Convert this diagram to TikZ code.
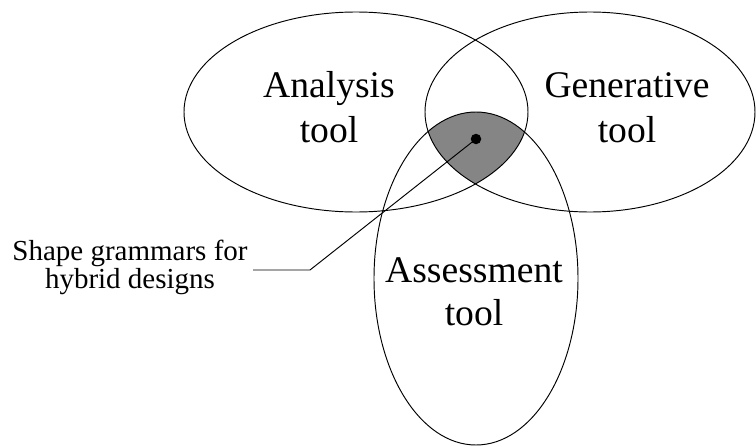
\documentclass[tikz,border=0pt]{standalone}
\usepackage{fontspec}
\setmainfont{Liberation Serif}
\usetikzlibrary{shapes.geometric}
\begin{document}
\begin{tikzpicture}[x=1pt,y=-1pt,
  set/.style={draw, ellipse, line width=0.95pt, inner sep=0pt, outer sep=0pt},
  big/.style={font=\fontsize{37.6}{45}\selectfont, align=center, inner sep=0pt, anchor=base},
  small/.style={font=\fontsize{29}{28}\selectfont, align=center, inner sep=0pt, anchor=base},
  lead/.style={line width=0.95pt},
  dotmark/.style={circle, fill=black, minimum size=10.5pt, inner sep=0pt}]
\useasboundingbox (0,0) rectangle (756,447);
\begin{scope}
\clip (356,112) ellipse [x radius=172pt, y radius=100pt];
\clip (590,112) ellipse [x radius=165pt, y radius=100pt];
\fill[black!48] (476,278.5) ellipse [x radius=102pt, y radius=166.5pt];
\end{scope}
\node[set, minimum width=344pt, minimum height=200pt] (analysis) at (356,112) {};
\node[set, minimum width=330pt, minimum height=200pt] (generative) at (590,112) {};
\node[set, minimum width=204pt, minimum height=333pt] (assessment) at (476,278.5) {};
\node[big] (analysistext) at (329,142) {Analysis\\tool};
\node[big] (generativetext) at (627,142) {Generative\\tool};
\node[big, font=\fontsize{37.6}{43}\selectfont] (assessmenttext) at (474,325) {Assessment\\tool};
\node[small] (label) at (130,288) {Shape grammars for\\hybrid designs};
\node[dotmark] (dot) at (476,139) {};
\coordinate (bend) at (310,270);
\coordinate (lend) at (253,270);
\draw[lead] (dot.center) -- (bend) -- (lend);
\end{tikzpicture}
\end{document}
